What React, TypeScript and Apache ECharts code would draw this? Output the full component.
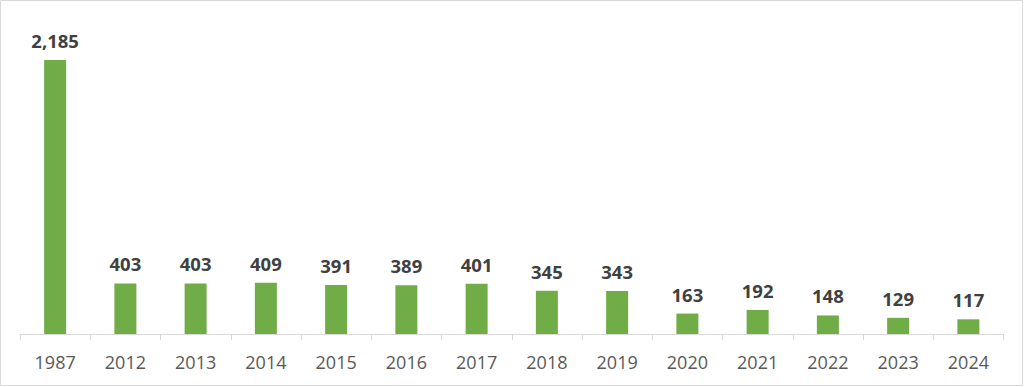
import React, { useEffect, useRef } from "react";
import * as echarts from "echarts";

const categories = ["1987", "2012", "2013", "2014", "2015", "2016", "2017", "2018", "2019", "2020", "2021", "2022", "2023", "2024"];
const values = [2185, 403, 403, 409, 391, 389, 401, 345, 343, 163, 192, 148, 129, 117];

export default function App() {
  const ref = useRef<HTMLDivElement>(null);
  useEffect(() => {
    document.body.style.margin = "0";
    const chart = echarts.init(ref.current!, null, { renderer: "svg" });
    chart.setOption({
      animation: false,
      backgroundColor: "#ffffff",
      graphic: [
        {
          type: "rect",
          shape: { x: 0.5, y: 0.5, width: 1022, height: 385 },
          style: { fill: "none", stroke: "#d9d9d9", lineWidth: 1 },
          silent: true,
        },
      ],
      grid: { left: 20, right: 20.5, top: 20.5, bottom: 53, containLabel: false },
      xAxis: {
        type: "category",
        data: categories,
        axisLine: { lineStyle: { color: "#d9d9d9", width: 1 } },
        axisTick: { show: true, length: 6, interval: 0, lineStyle: { color: "#d9d9d9" } },
        axisLabel: {
          interval: 0,
          color: "#595959",
          fontSize: 18,
          fontFamily: "Open Sans, Liberation Sans, sans-serif",
          margin: 19,
        },
      },
      yAxis: {
        type: "value",
        min: 0,
        max: 2500,
        show: false,
        splitLine: { show: false },
      },
      series: [
        {
          type: "bar",
          data: values,
          barWidth: 22,
          itemStyle: { color: "#70AD47" },
          label: {
            show: true,
            position: "top",
            distance: 10,
            color: "#404040",
            fontSize: 18.5,
            fontWeight: "bold",
            fontFamily: "Open Sans, Liberation Sans, sans-serif",
            formatter: (p: any) => Number(p.value).toLocaleString("en-US"),
          },
        },
      ],
    });
    return () => chart.dispose();
  }, []);
  return <div ref={ref} style={{ width: 1024, height: 387 }} />;
}
